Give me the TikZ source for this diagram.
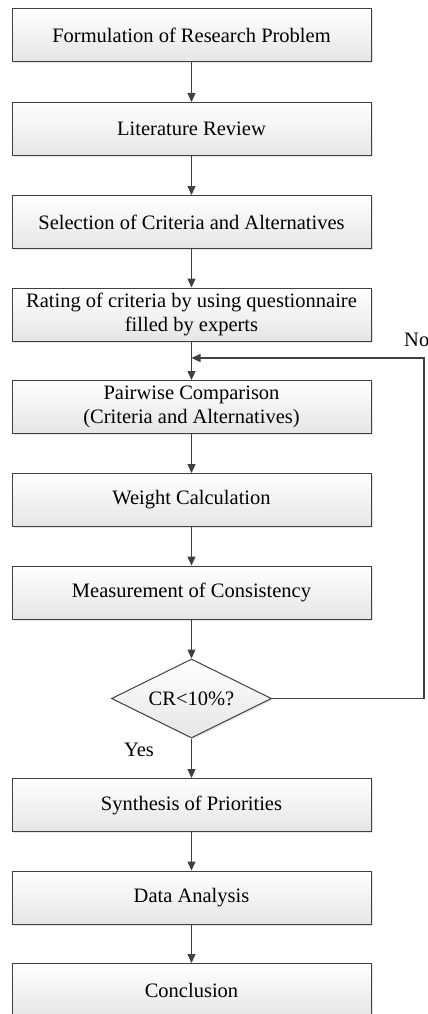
\documentclass[tikz,border=0pt]{standalone}
\usepackage{fontspec}
\setmainfont{Liberation Serif}
\usepackage{tikz}
\usetikzlibrary{shapes.geometric,shadows,arrows.meta}

\begin{document}
\begin{tikzpicture}[x=1pt,y=-1pt,font=\fontsize{20.5}{24}\selectfont,
		box/.style={draw=black!75,line width=1pt,top color=white,bottom color=black!10,
			drop shadow={shadow xshift=1.5pt,shadow yshift=-1.5pt,opacity=0.25,fill=black!40},
			minimum width=359pt,minimum height=53pt,align=center,inner sep=2pt},
		dec/.style={box,diamond,aspect=2.03,minimum width=160pt,minimum height=79pt,inner sep=0pt},
		arr/.style={draw=black!75,line width=1.2pt,-{Triangle[length=9pt,width=8pt]}}]
				\useasboundingbox (0,0) rectangle (428,1014);
				\node[box] (form) at (191.5,35) {Formulation of Research Problem};
				\node[box] (lit) at (191.5,129) {Literature Review};
				\node[box] (sel) at (191.5,222) {Selection of Criteria and Alternatives};
				\node[box] (rate) at (191.5,314.5) {Rating of criteria by using questionnaire\\filled by experts};
				\node[box] (pair) at (191.5,407) {Pairwise Comparison\\(Criteria and Alternatives)};
				\node[box] (weight) at (191.5,500) {Weight Calculation};
				\node[box] (meas) at (191.5,592.5) {Measurement of Consistency};
				\node[dec] (cr) at (191.5,698.5) {CR<10\%?};
				\node[box] (syn) at (191.5,805) {Synthesis of Priorities};
				\node[box] (data) at (191.5,897.5) {Data Analysis};
				\node[box] (conc) at (191.5,990) {Conclusion};
				\coordinate (back) at (424,358);
				\node[anchor=west,inner sep=0pt] (no) at (404,340) {No};
				\node[inner sep=0pt] (yes) at (139,750) {Yes};
				\draw[arr] (form) -- (lit);
				\draw[arr] (lit) -- (sel);
				\draw[arr] (sel) -- (rate);
				\draw[arr] (rate) -- (pair);
				\draw[arr] (pair) -- (weight);
				\draw[arr] (weight) -- (meas);
				\draw[arr] (meas) -- (cr);
				\draw[arr] (cr) -- (syn);
				\draw[arr] (syn) -- (data);
				\draw[arr] (data) -- (conc);
				\draw[arr] (cr.east) -| (back) -- (back -| pair.north);
			\end{tikzpicture}
\end{document}
